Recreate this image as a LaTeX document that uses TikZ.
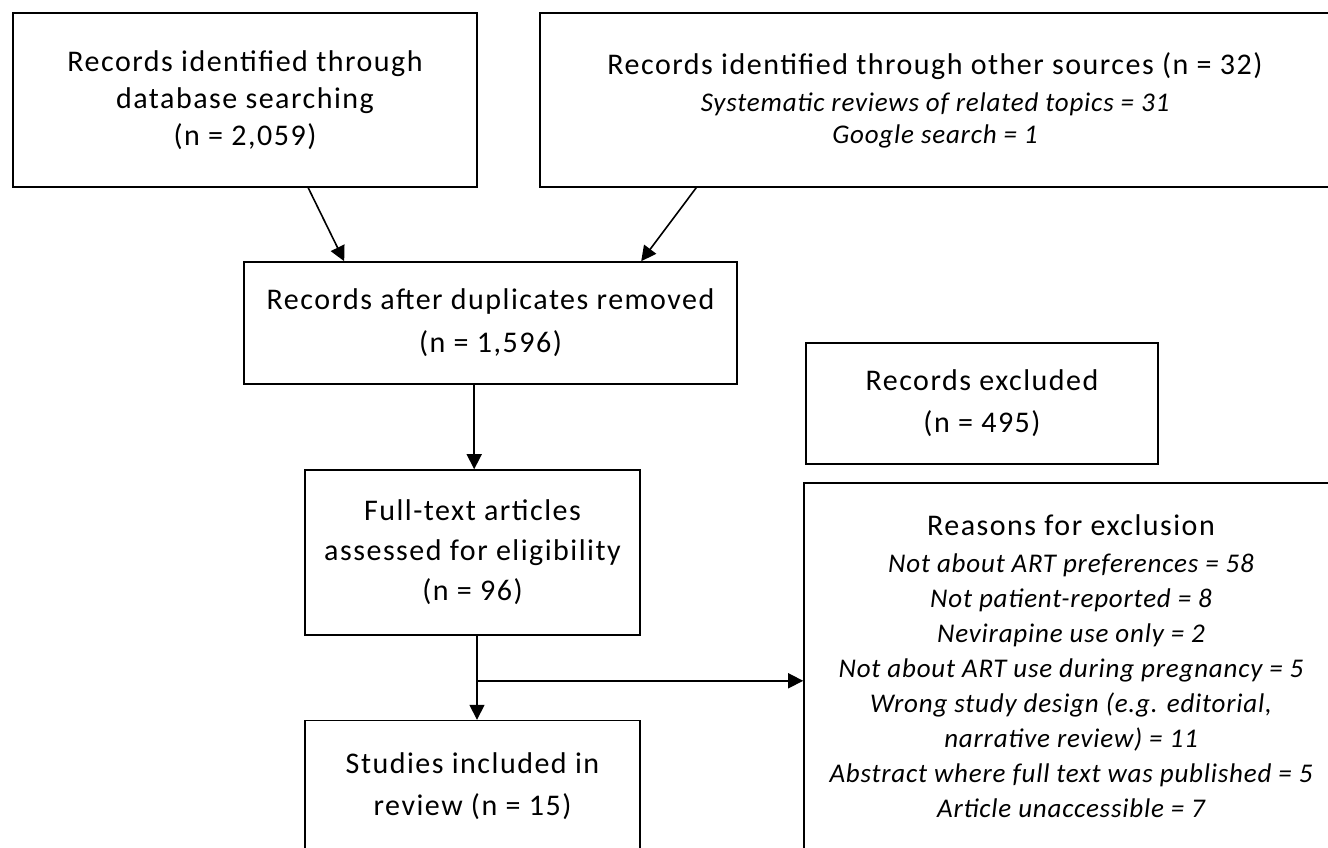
\documentclass[tikz,border=0pt]{standalone}
\usepackage{fontspec}
\setmainfont{Carlito}[LetterSpace=5]
\newfontfamily\itemfamily{Carlito}[LetterSpace=3]
\usetikzlibrary{arrows.meta, positioning}

\newcommand{\boxfont}{\fontsize{30}{40}\selectfont}
\newcommand{\itemfont}{\itemfamily\itshape\fontsize{27}{35}\selectfont}

\begin{document}
\begin{tikzpicture}[x=1pt, y=1pt, every node/.style={font=\boxfont, align=center},
    box/.style={draw, line width=1.6pt, inner sep=0pt},
    flow/.style={line width=1.6pt, -{Triangle[length=15pt, width=15pt]}}]
    \clip (0,0) rectangle (1328,847);

    % Identification
    \node[box, minimum width=464pt, minimum height=174pt] (db) at (245,747) {Records identified through\\[-3pt]database searching\\[-3pt](n = 2,059)};
    \node[box, minimum width=790pt, minimum height=174pt] (other) at (935,747) {Records identified through other sources (n = 32)\\[-3pt]{\itemfont Systematic reviews of related topics = 31}\\[-8pt]{\itemfont Google search = 1}};

    % Screening
    \node[box, minimum width=493pt, minimum height=122pt] (dup) at (490.5,524) {Records after duplicates removed\\[3pt](n = 1,596)};
    \node[box, minimum width=352pt, minimum height=121pt] (excl) at (982,443.5) {Records excluded\\[2pt](n = 495)};

    % Eligibility
    \node[box, minimum width=335pt, minimum height=165pt] (full) at (472.5,294.5) {Full-text articles\\assessed for eligibility\\(n = 96)};
    \node[box, minimum width=534pt, minimum height=367pt] (reasons) at (1071,180.5) {Reasons for exclusion\\[-3pt]
        {\itemfont Not about ART preferences = 58}\\[-5pt]
        {\itemfont Not patient-reported = 8}\\[-5pt]
        {\itemfont Nevirapine use only = 2}\\[-5pt]
        {\itemfont Not about ART use during pregnancy = 5}\\[-5pt]
        {\itemfont Wrong study design (e.g. editorial,}\\[-5pt]
        {\itemfont narrative review) = 11}\\[-5pt]
        {\itemfont Abstract where full text was published = 5}\\[-5pt]
        {\itemfont Article unaccessible = 7}};

    % Included
    \node[box, minimum width=335pt, minimum height=131pt, below=84pt of full] (incl) {Studies included in\\[2pt]review (n = 15)};

    % Arrows
    \draw[flow] ([xshift=296pt]db.south west) -- ([xshift=101pt]dup.north west);
    \draw[flow] ([xshift=157pt]other.south west) -- ([xshift=398pt]dup.north west);
    \draw[flow] ([xshift=231pt]dup.south west) -- ([xshift=231pt]dup.south west |- full.north);
    \draw[flow] ([xshift=4.5pt]full.south) -- ([xshift=4.5pt]incl.north);
    \coordinate (split) at ([xshift=4.5pt, yshift=-45pt]full.south);
    \draw[flow] (split) -- (split -| reasons.west);
\end{tikzpicture}
\end{document}
